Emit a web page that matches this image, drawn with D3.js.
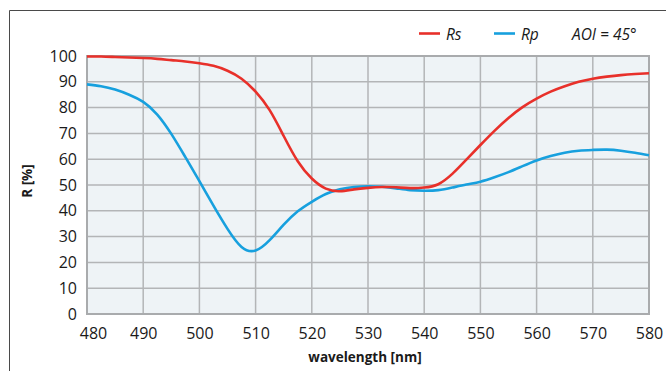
<!DOCTYPE html>
<html><head><meta charset="utf-8">
<script src="https://cdn.jsdelivr.net/npm/d3@7"></script>
<style>
html,body{margin:0;padding:0;background:#fff;}
svg{display:block;font-family:"Open Sans","Noto Sans",sans-serif;}
</style></head>
<body><svg id="c" width="666" height="371"></svg>
<script>
const wavelengths = [480,482.5,485,487.5,490,492.5,495,497.5,500,502.5,505,507.5,510,512.5,515,517.5,520,522.5,525,527.5,530,532.5,535,537.5,540,542.5,545,547.5,550,552.5,555,557.5,560,562.5,565,567.5,570,572.5,575,577.5,580];
const rsValues = [99.8,99.8,99.6,99.4,99.2,98.9,98.4,97.9,97.2,96.2,94.3,91.2,86.2,79.0,69.0,59.2,52.5,48.6,47.6,48.3,48.9,49.2,49.1,48.8,49.0,50.3,54.3,59.8,65.5,71.0,76.0,80.2,83.5,86.2,88.3,90.0,91.2,92.0,92.6,93.0,93.3];
const rpValues = [89.0,88.3,87.0,85.0,82.2,77.3,69.8,60.8,51.5,42.0,33.0,26.0,24.6,28.6,34.6,39.8,43.5,46.5,48.3,49.2,49.5,49.3,48.7,48.0,47.8,48.0,49.0,50.2,51.3,53.0,55.0,57.3,59.5,61.2,62.5,63.3,63.6,63.7,63.3,62.5,61.5];
const xTicks = [480,490,500,510,520,530,540,550,560,570,580];
const yTicks = [0,10,20,30,40,50,60,70,80,90,100];
const seriesNames = ["Rs","Rp"];
const seriesColors = ["#e8302a","#17a0de"];
const noteText = "AOI = 45°";

const svg = d3.select("#c");
const L=87, R=649, T=56, B=314;
const x = d3.scaleLinear().domain([480,580]).range([L,R]);
const y = d3.scaleLinear().domain([0,100]).range([B,T]);

// outer frame
svg.append("path").attr("d","M9.5,371V10.5H666").attr("fill","none").attr("stroke","#4a4a4a").attr("stroke-width",1);

// plot bg
svg.append("rect").attr("x",L).attr("y",T).attr("width",R-L).attr("height",B-T).attr("fill","#eef3f6");

// grid
const g = svg.append("g");
g.selectAll(".vg").data(xTicks.slice(1,-1)).enter().append("line")
 .attr("x1",d=>x(d)).attr("x2",d=>x(d)).attr("y1",T).attr("y2",B)
 .attr("stroke","#b3b5b7").attr("stroke-width",1.5);
g.selectAll(".hg").data(yTicks.slice(1,-1)).enter().append("line")
 .attr("y1",d=>y(d)).attr("y2",d=>y(d)).attr("x1",L).attr("x2",R)
 .attr("stroke","#b3b5b7").attr("stroke-width",1.5);
svg.append("rect").attr("x",L).attr("y",T).attr("width",R-L).attr("height",B-T)
 .attr("fill","none").attr("stroke","#a9abad").attr("stroke-width",2);

// axes
const xa = svg.append("g").attr("transform",`translate(0,${B})`)
 .call(d3.axisBottom(x).tickValues(xTicks).tickSize(0).tickPadding(14).tickFormat(d3.format("d")));
xa.select(".domain").remove();
xa.selectAll("text").attr("font-size",16).attr("fill","#1a1a1a").attr("font-family","'Open Sans',sans-serif");
xa.selectAll(".tick").filter(d=>d===480).select("text").attr("dx",6);

const ya = svg.append("g").attr("transform",`translate(${L},0)`)
 .call(d3.axisLeft(y).tickValues(yTicks).tickSize(0).tickPadding(10).tickFormat(d3.format("d")));
ya.select(".domain").remove();
ya.selectAll("text").attr("font-size",16).attr("fill","#1a1a1a").attr("font-family","'Open Sans',sans-serif");

// axis titles
svg.append("text").attr("x",(L+R)/2-3).attr("y",362).attr("text-anchor","middle")
 .attr("font-size",13.5).attr("font-weight","bold").attr("fill","#1a1a1a").text("wavelength [nm]");
svg.append("text").attr("transform","translate(32,181) rotate(-90)").attr("text-anchor","middle")
 .attr("font-size",13.5).attr("font-weight","bold").attr("fill","#1a1a1a").text("R [%]");

// lines
const line = d3.line().x((d,i)=>x(wavelengths[i])).y(d=>y(d)).curve(d3.curveNatural);
const plotG = svg.append("g");
[rpValues, rsValues].forEach((vals,k)=>{
  const idx = k===0?1:0;
  plotG.append("path").attr("d",line(vals)).attr("fill","none")
   .attr("stroke",seriesColors[idx]).attr("stroke-width",2.6);
});

// legend
const legX = [419,494];
seriesNames.forEach((n,i)=>{
  svg.append("line").attr("x1",legX[i]).attr("x2",legX[i]+21).attr("y1",33.5).attr("y2",33.5)
   .attr("stroke",seriesColors[i]).attr("stroke-width",2.6);
  svg.append("text").attr("x",legX[i]+27).attr("y",40).attr("font-size",15.5).attr("font-style","italic")
   .attr("fill","#1a1a1a").text(n);
});
svg.append("text").attr("x",572).attr("y",40).attr("font-size",15.5).attr("font-style","italic")
 .attr("fill","#1a1a1a").text(noteText);
</script></body></html>
